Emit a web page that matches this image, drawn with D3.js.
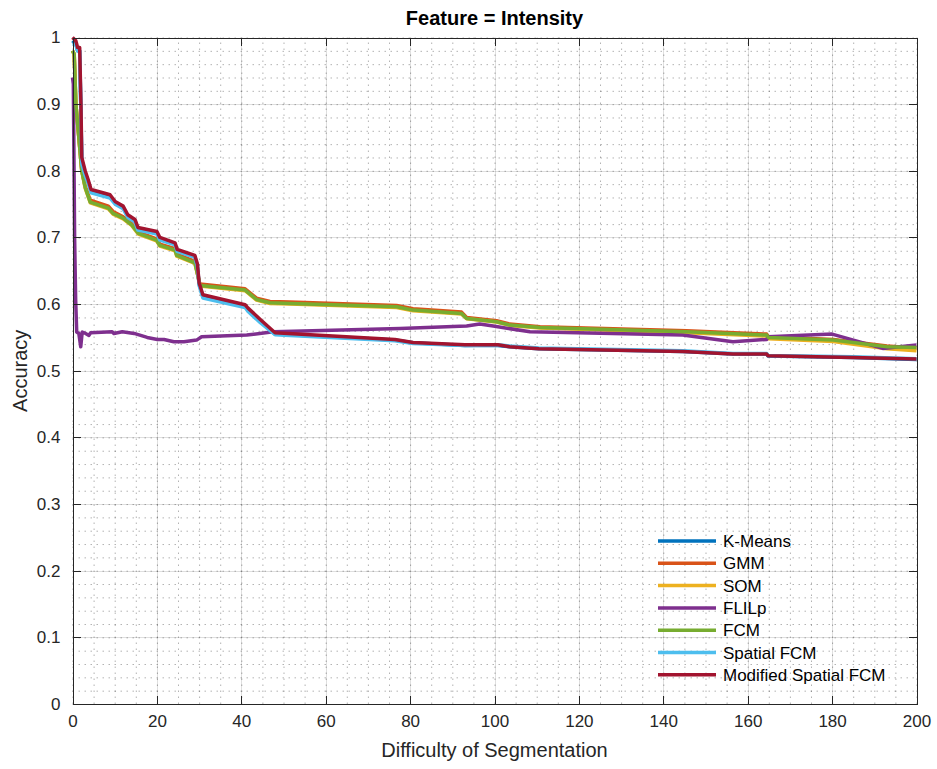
<!DOCTYPE html>
<html>
<head>
<meta charset="utf-8">
<script src="https://cdn.jsdelivr.net/npm/d3@7"></script>
<style>
	body { margin: 0; background: #fff; }
	svg { font-family: "Liberation Sans", Helvetica, Arial, sans-serif; }
	.grid line { stroke: #262626; stroke-opacity: 0.15; shape-rendering: crispEdges; }
	.grid path { display: none; }
	.minor line { stroke: #262626; stroke-opacity: 0.35; stroke-dasharray: 1.5,4.5; }
	.minor path { display: none; }
	.axis path, .axis line { stroke: #262626; shape-rendering: crispEdges; }
	.axis text { fill: #262626; font-size: 17px; }
	.line { fill: none; stroke-width: 3.5; stroke-linejoin: round; }
</style>
</head>
<body>
<svg id="chart" width="937" height="769"></svg>
<script>
	//series names and colours, in drawing order
	var names = ["K-Means", "GMM", "SOM", "FLILp", "FCM", "Spatial FCM", "Modified Spatial FCM"];
	var colors = ["#0072BD", "#D95319", "#EDB120", "#7E2F8E", "#77AC30", "#4DBEEE", "#A2142F"];

	var xTicks = [0, 20, 40, 60, 80, 100, 120, 140, 160, 180, 200];
	var yTicks = [0, 0.1, 0.2, 0.3, 0.4, 0.5, 0.6, 0.7, 0.8, 0.9, 1];

	//[difficulty, accuracy]
	var kmeans = [[0,0.995],[0.8,0.99],[1.2,0.98],[1.7,0.98],[2.0,0.89],[2.2,0.815],[3.0,0.796],[3.7,0.784],[4.4,0.769],[8.9,0.761],[10.1,0.752],[12.0,0.745],[13.1,0.732],[14.8,0.725],[15.5,0.713],[20.0,0.707],[20.7,0.698],[24.3,0.690],[24.8,0.680],[29.0,0.671],[29.6,0.657],[30.0,0.630],[30.9,0.611],[40.9,0.597],[41.6,0.591],[44.5,0.574],[48.0,0.555],[76.4,0.546],[80.7,0.542],[93.0,0.538],[100.8,0.538],[103.6,0.536],[110.5,0.533],[144.6,0.529],[156.5,0.525],[164.5,0.525],[164.8,0.522],[184.9,0.520],[200,0.517]];
	var gmm = [[0,0.98],[0.4,0.975],[0.8,0.90],[1.5,0.85],[2.2,0.80],[3,0.777],[4.2,0.756],[8.5,0.747],[9.6,0.739],[12,0.731],[14,0.721],[15.6,0.708],[19.9,0.698],[20.7,0.690],[24.3,0.683],[24.7,0.675],[29,0.664],[29.8,0.64],[30.2,0.630],[40.9,0.623],[43.6,0.609],[46.8,0.604],[51.5,0.603],[76.8,0.598],[80.7,0.593],[92.2,0.588],[93.4,0.580],[100.5,0.575],[103.6,0.570],[110.8,0.566],[145.5,0.560],[164.5,0.555],[164.9,0.551],[180.3,0.547],[193,0.537],[200,0.534]];
	var som = [[0,0.98],[0.4,0.975],[0.8,0.90],[1.5,0.85],[2.2,0.80],[3,0.774],[4.2,0.752],[8.5,0.743],[9.6,0.735],[12,0.728],[14,0.718],[15.6,0.705],[19.9,0.695],[20.7,0.687],[24.3,0.680],[24.7,0.672],[29,0.661],[29.8,0.64],[30.2,0.627],[40.9,0.620],[43.6,0.606],[46.8,0.601],[51.5,0.600],[76.8,0.595],[80.7,0.590],[92.2,0.585],[93.4,0.578],[100.5,0.573],[103.6,0.568],[110.8,0.564],[145.5,0.557],[164.5,0.552],[164.9,0.548],[180.3,0.544],[193,0.533],[200,0.530]];
	var flilp = [[0,0.94],[0.2,0.93],[0.5,0.70],[0.75,0.606],[1.0,0.558],[1.5,0.556],[1.95,0.536],[2.3,0.558],[3.1,0.556],[3.9,0.553],[4.3,0.557],[9.4,0.5585],[9.8,0.556],[11.8,0.5585],[14.6,0.556],[17.7,0.550],[20.1,0.547],[21.7,0.547],[24,0.5435],[26.4,0.5435],[29.4,0.546],[30.6,0.551],[41.3,0.5535],[47.6,0.5585],[77.6,0.5635],[93.4,0.567],[96.5,0.570],[99.7,0.567],[108.4,0.5585],[144.6,0.5535],[156.5,0.5435],[164.5,0.547],[164.8,0.551],[180,0.555],[192,0.5335],[200,0.5385]];
	var fcm = [[0,0.98],[0.4,0.975],[0.8,0.90],[1.5,0.85],[2.2,0.80],[3,0.775],[4.2,0.753],[8.5,0.744],[9.6,0.736],[12,0.729],[14,0.719],[15.6,0.706],[19.9,0.696],[20.7,0.688],[24.3,0.681],[24.7,0.673],[29,0.662],[29.8,0.64],[30.2,0.628],[40.9,0.621],[43.6,0.607],[46.8,0.602],[51.5,0.601],[76.8,0.596],[80.7,0.591],[92.2,0.586],[93.4,0.5785],[100.5,0.5735],[103.6,0.5685],[110.8,0.565],[145.5,0.5585],[164.5,0.5535],[164.9,0.550],[180.3,0.546],[193,0.536],[200,0.535]];
	var spatial = [[0,0.99],[0.8,0.99],[1.2,0.98],[1.7,0.98],[2.0,0.88],[2.2,0.81],[3.0,0.793],[3.7,0.782],[4.4,0.767],[8.9,0.759],[10.1,0.750],[12.0,0.743],[13.1,0.730],[14.8,0.723],[15.5,0.711],[20.0,0.705],[20.7,0.696],[24.3,0.689],[24.8,0.679],[29.0,0.670],[29.6,0.655],[30.0,0.628],[30.9,0.609],[40.9,0.595],[41.6,0.589],[44.5,0.572],[48.0,0.554],[76.4,0.545],[80.7,0.541],[93.0,0.538],[100.8,0.539],[103.6,0.537],[110.5,0.534],[144.6,0.530],[156.5,0.526],[164.5,0.526],[164.8,0.523],[184.9,0.521],[200,0.518]];
	var modified = [[0,1.0],[0.8,0.995],[1.2,0.985],[1.7,0.985],[2.0,0.90],[2.2,0.82],[3.0,0.80],[3.7,0.787],[4.4,0.772],[8.9,0.764],[10.1,0.754],[12.0,0.747],[13.1,0.734],[14.8,0.727],[15.5,0.715],[20.0,0.709],[20.7,0.700],[24.3,0.692],[24.8,0.682],[29.0,0.673],[29.6,0.66],[30.0,0.632],[30.9,0.614],[40.9,0.599],[41.6,0.594],[44.5,0.577],[48.0,0.557],[76.4,0.547],[80.7,0.5425],[93.0,0.539],[100.8,0.539],[103.6,0.536],[110.5,0.533],[144.6,0.529],[156.5,0.525],[164.5,0.525],[164.8,0.5225],[184.9,0.520],[200,0.5175]];

	var series = [kmeans, gmm, som, flilp, fcm, spatial, modified];

	var svg = d3.select("#chart");
	var margin = {top: 37.5, right: 20.5, bottom: 65, left: 72.5};
	var graph_w = 937 - margin.left - margin.right;
	var graph_h = 769 - margin.top - margin.bottom;
	var g = svg.append("g")
		.attr("transform", "translate(" + margin.left + "," + margin.top + ")");

	var x = d3.scaleLinear().domain([0, 200]).range([0, graph_w]);
	var y = d3.scaleLinear().domain([0, 1]).range([graph_h, 0]);

	// minor dotted grid
	g.append("g")
		.attr("class", "minor")
		.attr("transform", "translate(0," + graph_h + ")")
		.call(d3.axisBottom(x).tickValues(d3.range(0, 201, 5)).tickSize(-graph_h).tickFormat(""));
	g.append("g")
		.attr("class", "minor")
		.call(d3.axisLeft(y).tickValues(d3.range(0, 51).map(function(i) { return i / 50; })).tickSize(-graph_w).tickFormat(""));

	// major grid
	g.append("g")
		.attr("class", "grid")
		.attr("transform", "translate(0," + graph_h + ")")
		.call(d3.axisBottom(x).tickValues(xTicks).tickSize(-graph_h).tickFormat(""));
	g.append("g")
		.attr("class", "grid")
		.call(d3.axisLeft(y).tickValues(yTicks).tickSize(-graph_w).tickFormat(""));

	var line = d3.line()
		.x(function(d) { return x(d[0]); })
		.y(function(d) { return y(d[1]); });

	for (var i = 0; i < series.length; i++) {
		g.append("path")
			.datum(series[i])
			.attr("class", "line")
			.attr("stroke", colors[i])
			.attr("d", line);
	}

	// box with inward ticks on all sides
	g.append("g")
		.attr("class", "axis")
		.attr("transform", "translate(0," + graph_h + ")")
		.call(d3.axisBottom(x).tickValues(xTicks).tickSizeInner(-8).tickSizeOuter(0).tickPadding(11).tickFormat(d3.format("d")));
	g.append("g")
		.attr("class", "axis")
		.call(d3.axisTop(x).tickValues(xTicks).tickSizeInner(-8).tickSizeOuter(0).tickFormat(""));
	g.append("g")
		.attr("class", "axis")
		.call(d3.axisLeft(y).tickValues(yTicks).tickSizeInner(-8).tickSizeOuter(0).tickPadding(12).tickFormat(function(d) { return d3.format("")(+d.toFixed(1)); }));
	g.append("g")
		.attr("class", "axis")
		.attr("transform", "translate(" + graph_w + ",0)")
		.call(d3.axisRight(y).tickValues(yTicks).tickSizeInner(-8).tickSizeOuter(0).tickFormat(""));

	// title and labels
	svg.append("text")
		.attr("x", margin.left + graph_w / 2)
		.attr("y", 25)
		.attr("text-anchor", "middle")
		.attr("font-weight", "bold")
		.attr("font-size", "20px")
		.attr("fill", "#000")
		.text("Feature = Intensity");
	svg.append("text")
		.attr("x", margin.left + graph_w / 2)
		.attr("y", 757)
		.attr("text-anchor", "middle")
		.attr("font-size", "20px")
		.attr("fill", "#262626")
		.text("Difficulty of Segmentation");
	svg.append("text")
		.attr("transform", "translate(27," + (margin.top + graph_h / 2) + ") rotate(-90)")
		.attr("text-anchor", "middle")
		.attr("font-size", "20px")
		.attr("fill", "#262626")
		.text("Accuracy");

	// legend, no box
	var legend = svg.append("g")
		.attr("transform", "translate(658,541)");
	names.forEach(function(name, i) {
		var row = legend.append("g").attr("transform", "translate(0," + (i * 22.3) + ")");
		row.append("line")
			.attr("x1", 0).attr("x2", 58)
			.attr("stroke", colors[i])
			.attr("stroke-width", 3.5);
		row.append("text")
			.attr("x", 65)
			.attr("dy", "0.36em")
			.attr("font-size", "17px")
			.attr("fill", "#000")
			.text(name);
	});
</script>
</body>
</html>
